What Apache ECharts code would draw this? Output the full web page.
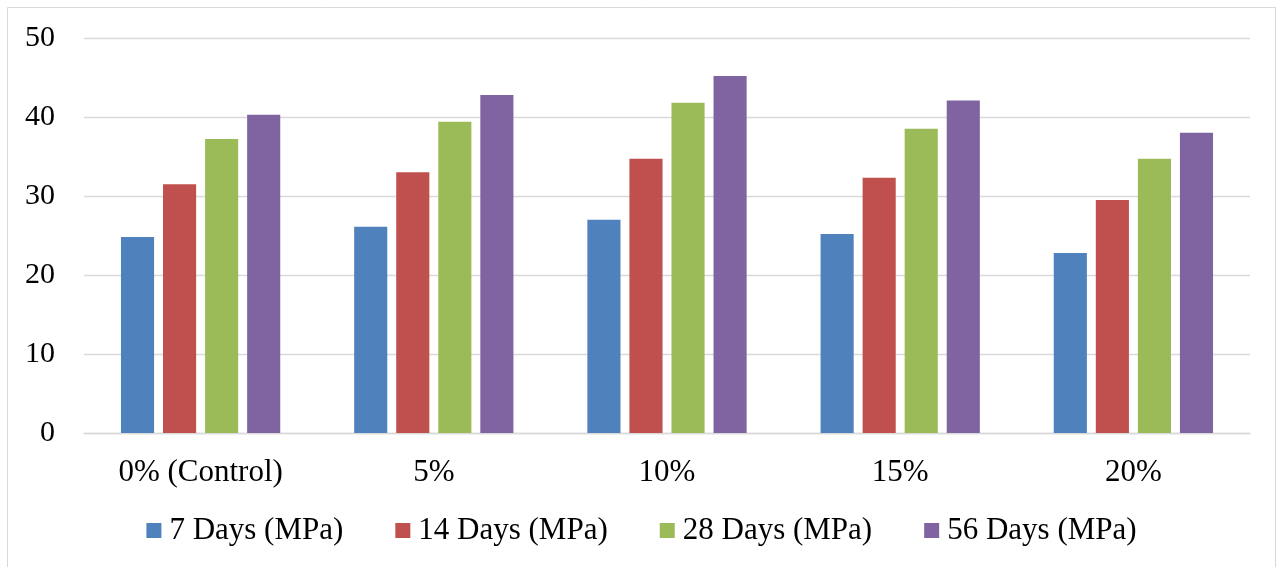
<!DOCTYPE html>
<html>
<head>
<meta charset="utf-8">
<script src="https://cdn.jsdelivr.net/npm/echarts@6/dist/echarts.min.js"></script>
<style>
  html, body { margin: 0; padding: 0; background: #fff; }
  #chart { width: 1283px; height: 567px; }
</style>
</head>
<body>
<div id="chart"></div>
<script>
// Compressive strength by replacement level
const categories = ['0% (Control)', '5%', '10%', '15%', '20%'];
const days7 = [24.8, 26.1, 27.0, 25.2, 22.8];
const days14 = [31.5, 33.0, 34.7, 32.3, 29.5];
const days28 = [37.2, 39.4, 41.8, 38.5, 34.7];
const days56 = [40.3, 42.8, 45.2, 42.1, 38.0];
const seriesNames = ['7 Days (MPa)', '14 Days (MPa)', '28 Days (MPa)', '56 Days (MPa)'];
const colors = ['#4F81BD', '#C0504D', '#9BBB59', '#8064A2'];

const font = '"Liberation Serif", "Times New Roman", serif';
const chart = echarts.init(document.getElementById('chart'), null, { renderer: 'canvas' });

const values = [days7, days14, days28, days56];
const series = values.map((data, i) => ({
  name: seriesNames[i],
  type: 'bar',
  data: data,
  barWidth: '14.2%',
  barGap: '27%',
  itemStyle: { color: colors[i] }
}));

chart.setOption({
  animation: false,
  color: colors,
  graphic: [{
    type: 'rect',
    shape: { x: 7.5, y: 7.5, width: 1268, height: 600 },
    style: { fill: 'none', stroke: '#d9d9d9', lineWidth: 1 },
    silent: true
  }],
  grid: { left: 84, right: 33, top: 38, bottom: 134, containLabel: false },
  legend: {
    data: seriesNames,
    bottom: 16,
    left: 'center',
    itemWidth: 15,
    itemHeight: 15,
    itemGap: 52,
    icon: 'rect',
    textStyle: { fontFamily: font, fontSize: 31, color: '#000', padding: [0, 0, 0, 3] }
  },
  xAxis: {
    type: 'category',
    data: categories,
    axisTick: { show: false },
    axisLine: { lineStyle: { color: '#d9d9d9', width: 1.3 } },
    axisLabel: { fontFamily: font, fontSize: 31, color: '#000', margin: 24 }
  },
  yAxis: {
    type: 'value',
    min: 0,
    max: 50,
    interval: 10,
    axisLine: { show: false },
    axisTick: { show: false },
    splitLine: { lineStyle: { color: '#d9d9d9', width: 1.3 } },
    axisLabel: { fontFamily: font, fontSize: 30, color: '#000', margin: 29 }
  },
  series: series
});
</script>
</body>
</html>
